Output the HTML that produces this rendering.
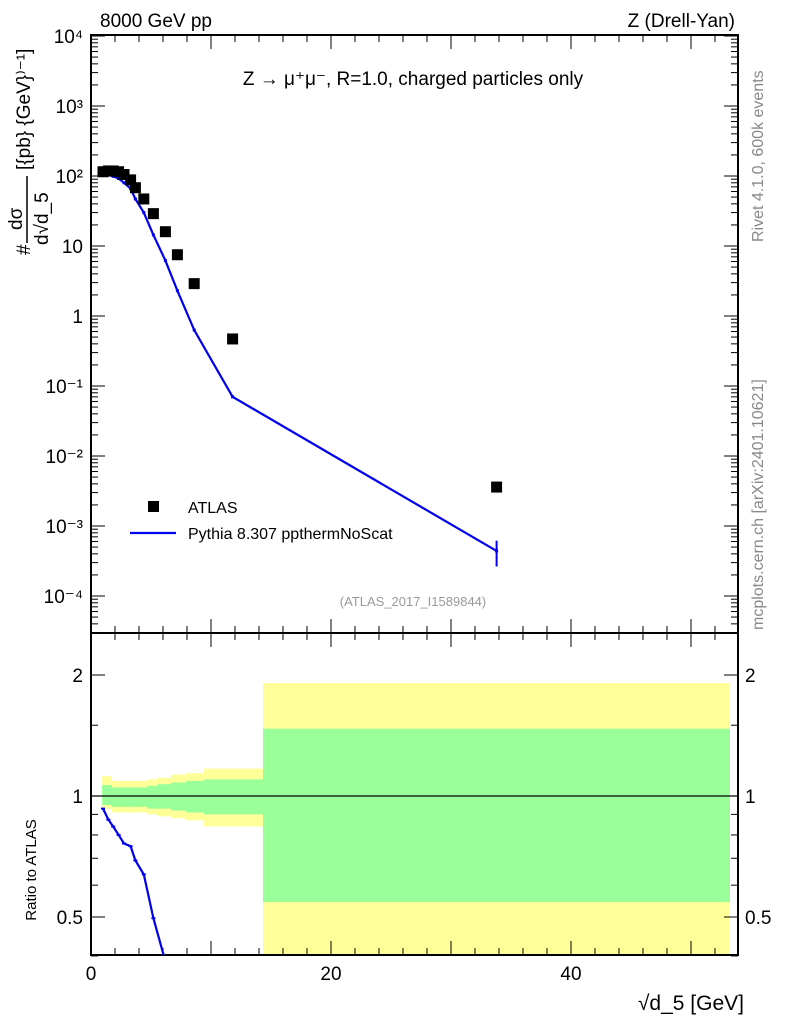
<!DOCTYPE html>
<html><head><meta charset="utf-8"><style>
html,body{margin:0;background:#fff;overflow:hidden;width:786px;height:1024px}
svg{font-family:"Liberation Sans",sans-serif;display:block}
</style></head><body>
<svg id="c" width="786" height="1024" xmlns="http://www.w3.org/2000/svg">
<text x="100" y="27" font-size="19">8000 GeV pp</text>
<text x="735" y="27" font-size="19" text-anchor="end">Z (Drell-Yan)</text>
<text x="413" y="85" font-size="19" text-anchor="middle">Z → μ⁺μ⁻, R=1.0, charged particles only</text>
<text x="413" y="606" font-size="13" fill="#999" text-anchor="middle">(ATLAS_2017_I1589844)</text>
<text transform="translate(763,242) rotate(-90)" font-size="16" fill="#888">Rivet 4.1.0,  600k events</text>
<text transform="translate(763,630) rotate(-90)" font-size="16" fill="#888">mcplots.cern.ch [arXiv:2401.10621]</text>
<g>
<text transform="translate(30,255) rotate(-90)" font-size="19">#</text>
<text transform="translate(22,230) rotate(-90)" font-size="19">dσ</text>
<line x1="27" y1="243" x2="27" y2="176" stroke="#000" stroke-width="1.5"/>
<text transform="translate(48,245) rotate(-90)" font-size="19">d√d_5</text>
<text transform="translate(30,170) rotate(-90)" font-size="19">[{pb} {GeV}⁾⁻¹]</text>
</g>
<text transform="translate(36,870) rotate(-90)" font-size="15" text-anchor="middle">Ratio to ATLAS</text>
<text x="744" y="1010" font-size="21" text-anchor="end">√d_5 [GeV]</text>
<g id="g"></g>
</svg>
<script>
const xVals=[1.0,1.45,1.85,2.3,2.75,3.3,3.7,4.4,5.2,6.2,7.2,8.6,11.8,33.8];
const dataVals=[115,118,118,115,105,88,68,47,29,16,7.5,2.9,0.47,0.0036];
const mcVals=[107,103,99,92,80,66,47,30,14.4,6.2,2.3,0.63,0.07,0.00044];
const binEdges=[0.93,1.75,3.4,4.67,5.58,6.67,7.92,9.42,14.33,53.25];
const yellowUp=[1.12,1.09,1.09,1.10,1.11,1.13,1.14,1.17,1.91];
const greenUp=[1.065,1.05,1.05,1.06,1.07,1.08,1.09,1.10,1.47];
const greenLo=[0.95,0.94,0.94,0.93,0.93,0.92,0.91,0.90,0.545];
const yellowLo=[0.93,0.91,0.91,0.90,0.89,0.88,0.87,0.84,0.3];
const xTicks=[0,20,40];
const yTickLabels=["10⁻⁴","10⁻³","10⁻²","10⁻¹","1","10","10²","10³","10⁴"];
const rTicks=[0.5,1,2];
const NS="http://www.w3.org/2000/svg",G=document.getElementById('g');
const L=91,R=738,T=35,M=633,B=955;
const X=v=>L+v*12;
const Y=v=>316-70*Math.log10(v);
const RY=v=>796-121*Math.log2(v);
function el(t,a){const e=document.createElementNS(NS,t);for(const k in a)e.setAttribute(k,a[k]);G.appendChild(e);return e;}
for(let i=0;i<binEdges.length-1;i++){
 const x1=X(binEdges[i]),x2=X(binEdges[i+1]);
 const clip=v=>Math.min(B,Math.max(M,RY(v)));
 let r=el('rect',{x:x1,y:clip(yellowUp[i]),width:x2-x1,height:clip(yellowLo[i])-clip(yellowUp[i]),fill:'#ffff99'});
 
 
 let g=el('rect',{x:x1,y:clip(greenUp[i]),width:x2-x1,height:clip(greenLo[i])-clip(greenUp[i]),fill:'#99ff99'});
 
 
}
let one=el('line',{x1:L,x2:R,y1:RY(1),y2:RY(1),stroke:'#000','stroke-width':1.3});


for(const [y1,y2] of [[T,M],[M,B]]){
 const f=el('rect',{x:L,y:y1,width:R-L,height:y2-y1,fill:'none',stroke:'#000','stroke-width':2});
 
 
}
for(let v=0;v<=53;v+=2){const big=v%10==0;
 for(const [yb,yt] of [[M,T],[B,M]]){
  el('line',{x1:X(v),x2:X(v),y1:yb,y2:yb-(big?14:7),stroke:'#000'});
  el('line',{x1:X(v),x2:X(v),y1:yt,y2:yt+(big?14:7),stroke:'#000'});
 }}
xTicks.forEach(v=>{const t=el('text',{x:X(v),y:980,'font-size':19,'text-anchor':'middle'});t.textContent=v;
 
 });
for(let d=-5;d<=4;d++)for(let m=1;m<10;m++){const v=m*Math.pow(10,d),y=Y(v);if(y<T||y>M)continue;
 const w=m==1?14:7;el('line',{x1:L,x2:L+w,y1:y,y2:y,stroke:'#000'});el('line',{x1:R,x2:R-w,y1:y,y2:y,stroke:'#000'});}
yTickLabels.forEach((s,i)=>{const t=el('text',{x:83,y:Y(Math.pow(10,i-4))+7,'font-size':19,'text-anchor':'end'});t.textContent=s;
 
 });
for(const v of [0.4,0.5,0.6,0.7,0.8,0.9,1,1.5,2]){const y=RY(v);const w=(v==0.5||v==1||v==2)?14:7;
 el('line',{x1:L,x2:L+w,y1:y,y2:y,stroke:'#000'});el('line',{x1:R,x2:R-w,y1:y,y2:y,stroke:'#000'});}
rTicks.forEach(v=>{for(const [x,a] of [[83,'end'],[745,'start']]){const t=el('text',{x:x,y:RY(v)+7,'font-size':19,'text-anchor':a});t.textContent=v;
 
 }});
let p=el('polyline',{points:xVals.map((x,i)=>X(x)+','+Y(mcVals[i])).join(' '),fill:'none',stroke:'#0000ee','stroke-width':2.2});


xVals.forEach((x,i)=>{const s=el('rect',{x:X(x)-1.5,y:Y(mcVals[i])-1.5,width:3,height:3,fill:'#0000ee'});
 
 });
const last=xVals.length-1;
el('line',{x1:X(xVals[last]),x2:X(xVals[last]),y1:Y(mcVals[last]*1.4),y2:Y(mcVals[last]*0.6),stroke:'#0000ee','stroke-width':2});
xVals.forEach((x,i)=>{const s=el('rect',{x:X(x)-5.5,y:Y(dataVals[i])-5.5,width:11,height:11,fill:'#000'});
 
 });
// ratio line truncated at panel bottom
const rp=[];
for(let i=0;i<xVals.length;i++){
 const q=[X(xVals[i]),RY(mcVals[i]/dataVals[i])];
 if(q[1]<=B){rp.push(q);continue;}
 if(rp.length){const a=rp[rp.length-1];const t=(B-a[1])/(q[1]-a[1]);rp.push([a[0]+t*(q[0]-a[0]),B]);}
 break;
}
let rl=el('polyline',{points:rp.map(q=>q.join(',')).join(' '),fill:'none',stroke:'#0000ee','stroke-width':2.2});


rp.forEach(q=>{if(q[1]<B)el('line',{x1:q[0]-2,x2:q[0]+2,y1:q[1],y2:q[1],stroke:'#0000ee','stroke-width':2});});
let lm=el('rect',{x:148,y:501,width:11,height:11,fill:'#000'});


let lt=el('text',{x:188,y:513,'font-size':16});lt.textContent='ATLAS';


let ll=el('line',{x1:130,x2:176,y1:533,y2:533,stroke:'#0000ee','stroke-width':2.2});


let lt2=el('text',{x:188,y:539,'font-size':16});lt2.textContent='Pythia 8.307 ppthermNoScat';


</script>
</body></html>
